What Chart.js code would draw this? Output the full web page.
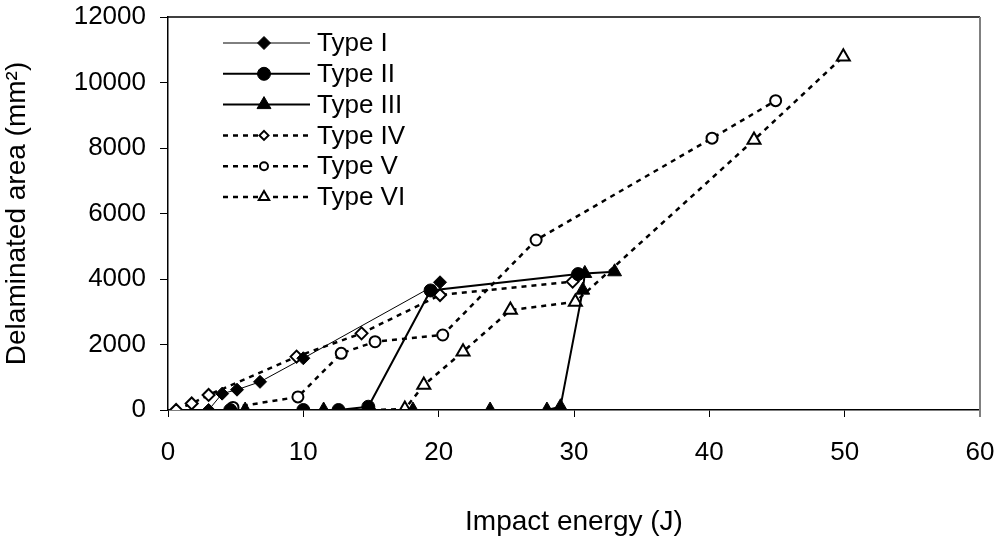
<!DOCTYPE html>
<html>
<head>
<meta charset="utf-8">
<script src="https://cdn.jsdelivr.net/npm/chart.js@4/dist/chart.umd.min.js"></script>
<style>
    body { margin: 0; background: #fff; }
    #wrap { width: 995px; height: 541px; }
</style>
</head>
<body>
<div id="wrap"><canvas id="myChart" width="995" height="541"></canvas></div>
<script>
// series names
const seriesNames = ["Type I", "Type II", "Type III", "Type IV", "Type V", "Type VI"];

// impact energy (J) / delaminated area (mm²) per type
const energyI = [3, 4, 5.1, 6.8, 10, 20.1];
const areaI = [0, 500, 620, 860, 1580, 3900];

const energyII = [4.6, 10, 12.6, 14.8, 19.4, 30.3];
const areaII = [0, 0, 0, 100, 3650, 4150];

const energyIII = [5.7, 11.5, 18.1, 23.8, 28, 29, 30.65, 30.8, 33];
const areaIII = [0, 0, 0, 0, 0, 100, 3660, 4170, 4220];

const energyIV = [0.6, 1.75, 3, 9.5, 14.3, 20.1, 29.9];
const areaIV = [0, 200, 460, 1630, 2340, 3510, 3920];

const energyV = [4.8, 9.6, 12.8, 15.3, 20.3, 27.2, 40.2, 44.9];
const areaV = [80, 400, 1730, 2085, 2290, 5190, 8300, 9445];

const energyVI = [15, 17.5, 18.9, 21.8, 25.3, 30.1, 43.3, 49.9];
const areaVI = [0, 30, 760, 1780, 3050, 3300, 8245, 10790];

// axis ticks
const xTicks = [0, 10, 20, 30, 40, 50, 60];
const yTicks = [0, 2000, 4000, 6000, 8000, 10000, 12000];

Chart.defaults.font.family = "'Liberation Sans', Arial, sans-serif";
Chart.defaults.color = "#000";

function toPoints(xs, ys) {
    return xs.map((x, i) => ({ x: x, y: ys[i] }));
}

function makeSet(idx, xs, ys, style, filled, radius, width, dashed) {
    return {
        label: seriesNames[idx],
        data: toPoints(xs, ys),
        borderColor: "#000",
        borderWidth: width,
        borderDash: dashed ? [5, 5] : [],
        pointStyle: style,
        pointRadius: radius,
        pointHoverRadius: radius,
        pointBackgroundColor: filled ? "#000" : "#fff",
        pointBorderColor: "#000",
        pointBorderWidth: filled ? 1 : 2,
        tension: 0,
        fill: false,
        _filled: filled
    };
}

// legend drawn like the original (line - marker - line)
function drawMarker(ctx, style, x, y, r, filled) {
    ctx.save();
    ctx.setLineDash([]);
    ctx.beginPath();
    if (style === "circle") {
        ctx.arc(x, y, r, 0, Math.PI * 2);
    } else if (style === "rectRot") {
        ctx.moveTo(x, y - r);
        ctx.lineTo(x + r, y);
        ctx.lineTo(x, y + r);
        ctx.lineTo(x - r, y);
        ctx.closePath();
    } else {
        ctx.moveTo(x, y - r);
        ctx.lineTo(x + r * 0.87, y + r * 0.5);
        ctx.lineTo(x - r * 0.87, y + r * 0.5);
        ctx.closePath();
    }
    ctx.fillStyle = filled ? "#000" : "#fff";
    ctx.fill();
    ctx.lineWidth = filled ? 1 : 2;
    ctx.strokeStyle = "#000";
    ctx.stroke();
    ctx.restore();
}

const legendPlugin = {
    id: "sideLegend",
    afterDraw(chart) {
        const ctx = chart.ctx;
        const rowY = 43;
        const step = 30.8;
        chart.data.datasets.forEach((ds, i) => {
            const y = rowY + i * step;
            ctx.save();
            ctx.strokeStyle = "#000";
            ctx.lineWidth = ds.borderWidth;
            ctx.setLineDash(ds.borderDash);
            ctx.beginPath();
            ctx.moveTo(223, y);
            ctx.lineTo(310, y);
            ctx.stroke();
            ctx.restore();
            const r = ds._filled ? ds.pointRadius : ds.pointRadius - 1.5;
            drawMarker(ctx, ds.pointStyle, 264, y, r, ds._filled);
            ctx.save();
            ctx.fillStyle = "#000";
            ctx.font = "26px 'Liberation Sans', Arial, sans-serif";
            ctx.textBaseline = "middle";
            ctx.fillText(ds.label, 317, y + 1);
            ctx.restore();
        });
    }
};

// top and right border of the plot area
const framePlugin = {
    id: "frame",
    beforeDatasetsDraw(chart) {
        const a = chart.chartArea;
        const ctx = chart.ctx;
        ctx.save();
        ctx.strokeStyle = "#000";
        ctx.lineWidth = 1.5;
        ctx.beginPath();
        ctx.moveTo(a.left, a.top);
        ctx.lineTo(a.right, a.top);
        ctx.stroke();
        ctx.strokeStyle = "#808080";
        ctx.lineWidth = 2;
        ctx.beginPath();
        ctx.moveTo(a.right, a.top);
        ctx.lineTo(a.right, a.bottom + 7);
        ctx.stroke();
        ctx.restore();
    }
};

function drawChart() {
    const ctx = document.getElementById("myChart").getContext("2d");
    const config = {
        type: "line",
        data: {
            datasets: [
                makeSet(0, energyI, areaI, "rectRot", true, 6.5, 1, false),
                makeSet(1, energyII, areaII, "circle", true, 6.5, 2, false),
                makeSet(2, energyIII, areaIII, "triangle", true, 8, 2, false),
                makeSet(3, energyIV, areaIV, "rectRot", false, 6, 2.5, true),
                makeSet(4, energyV, areaV, "circle", false, 5.5, 2.5, true),
                makeSet(5, energyVI, areaVI, "triangle", false, 7.5, 2.5, true)
            ]
        },
        options: {
            responsive: false,
            animation: false,
            layout: { padding: { top: 17, right: 15, left: 0, bottom: 0 } },
            scales: {
                x: {
                    type: "linear",
                    min: xTicks[0],
                    max: xTicks[xTicks.length - 1],
                    afterBuildTicks: (s) => { s.ticks = xTicks.map(v => ({ value: v })); },
                    afterFit: (s) => {
                        s.height = 131;
                        s.paddingLeft = 0;
                        s.paddingRight = 0;
                    },
                    border: { color: "#000", width: 1.5 },
                    grid: {
                        drawOnChartArea: false,
                        drawTicks: true,
                        tickLength: 7,
                        color: (c) => (c.tick && c.tick.value === 60 ? "#808080" : "#000")
                    },
                    ticks: { font: { size: 26 }, padding: 20, maxRotation: 0 },
                    title: {
                        display: true,
                        text: "Impact energy (J)",
                        font: { size: 28 },
                        padding: { top: 0, bottom: 2 }
                    }
                },
                y: {
                    min: yTicks[0],
                    max: yTicks[yTicks.length - 1],
                    afterBuildTicks: (s) => { s.ticks = yTicks.map(v => ({ value: v })); },
                    afterFit: (s) => {
                        s.width = 168;
                        s.paddingTop = 0;
                        s.paddingBottom = 0;
                    },
                    border: { color: "#000", width: 1.5 },
                    grid: { drawOnChartArea: false, drawTicks: true, tickLength: 8, color: "#000" },
                    ticks: { font: { size: 26 }, padding: 14, callback: (v) => String(v) },
                    title: {
                        display: true,
                        text: "Delaminated area (mm²)",
                        font: { size: 28 },
                        padding: { top: 0, bottom: 0 }
                    }
                }
            },
            plugins: {
                legend: { display: false },
                tooltip: { enabled: false }
            }
        },
        plugins: [framePlugin, legendPlugin]
    };
    new Chart(ctx, config);
}

document.addEventListener("DOMContentLoaded", () => {
    drawChart();
});
</script>
</body>
</html>
